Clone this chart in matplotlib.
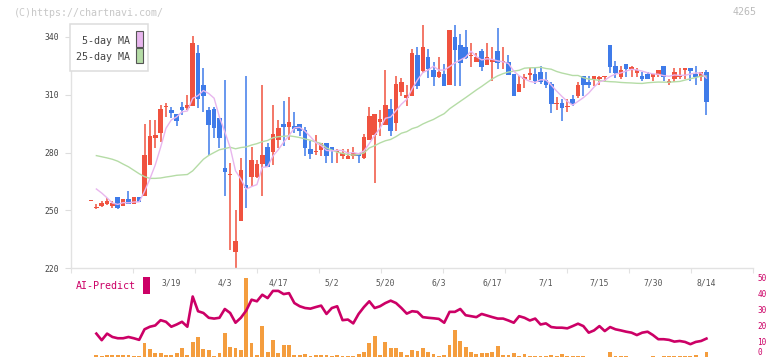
import numpy as np
import pandas as pd
import matplotlib
matplotlib.use("Agg")
import matplotlib.pyplot as plt
from matplotlib.patches import Rectangle
from matplotlib.transforms import blended_transform_factory

# ---------------- data ----------------
opens = [255.0, 251.4, 252.5, 253.5, 252.4, 256.9, 252.3, 256.1, 253.3, 257.1,
         257.6, 273.5, 287.7, 290.3, 303.9, 301.9, 300.1, 303.6, 303.2, 304.3,
         331.4, 315.0, 302.0, 302.5, 297.7, 272.1, 268.7, 228.6, 244.7, 263.2,
         267.5, 267.5, 273.9, 282.7, 280.4, 286.5, 294.8, 293.4, 293.7, 294.8,
         291.7, 281.8, 280.4, 281.3, 284.9, 283.0, 280.8, 278.4, 276.6, 278.4,
         279.7, 277.3, 286.5, 289.2, 295.8, 294.3, 302.5, 295.5, 311.5, 308.4,
         309.4, 330.5, 322.4, 329.5, 322.7, 319.3, 320.7, 315.0, 339.8, 335.7,
         334.7, 330.3, 327.1, 332.6, 325.5, 327.4, 332.6, 327.1, 326.9, 320.7,
         311.5, 318.6, 320.7, 320.7, 321.7, 317.6, 315.5, 305.3, 305.6, 303.8,
         307.7, 309.4, 319.6, 316.5, 318.1, 318.6, 319.3, 335.7, 324.8, 319.1,
         325.9, 323.8, 321.4, 319.6, 320.7, 319.3, 320.3, 324.8, 316.5, 318.3,
         319.6, 323.2, 323.8, 320.7, 319.3, 321.7]
highs = [255.0, 253.1, 255.0, 256.6, 255.0, 256.9, 256.1, 260.2, 256.9, 257.1,
         294.9, 296.8, 296.8, 304.6, 305.5, 303.6, 300.1, 306.0, 309.8, 340.2,
         335.7, 323.6, 303.6, 303.6, 297.7, 317.6, 274.4, 250.0, 277.0, 319.6,
         282.7, 276.1, 315.0, 284.7, 304.6, 296.8, 306.7, 308.8, 301.0, 294.8,
         293.4, 286.0, 289.1, 284.9, 284.9, 283.0, 281.8, 281.8, 281.8, 282.7,
         279.7, 289.6, 303.6, 299.8, 301.9, 322.7, 307.7, 319.6, 318.8, 315.0,
         333.6, 334.7, 346.0, 333.6, 326.9, 329.5, 325.7, 343.5, 346.0, 341.4,
         343.5, 336.7, 331.5, 333.6, 336.7, 334.7, 344.5, 334.7, 330.5, 320.7,
         319.6, 320.7, 323.8, 323.8, 324.8, 321.7, 316.5, 308.8, 307.7, 307.7,
         309.8, 316.5, 319.6, 319.6, 319.6, 319.6, 319.3, 335.7, 327.4, 324.8,
         325.9, 324.8, 323.8, 321.7, 321.7, 320.7, 322.7, 324.8, 318.3, 323.8,
         323.8, 323.8, 323.8, 324.8, 321.7, 322.7]
lows = [255.0, 250.7, 251.9, 252.8, 251.4, 250.9, 252.3, 253.3, 253.3, 254.4,
        257.6, 273.5, 282.5, 285.6, 298.2, 297.7, 293.7, 299.4, 302.0, 304.3,
        302.9, 300.8, 278.7, 287.3, 282.2, 257.6, 229.5, 220.0, 244.7, 251.4,
        262.5, 266.6, 257.6, 272.7, 273.5, 282.2, 283.5, 286.5, 289.9, 288.7,
        278.4, 276.6, 278.7, 278.4, 274.7, 274.7, 274.7, 276.6, 276.6, 276.6,
        274.7, 276.6, 286.5, 264.4, 288.5, 294.3, 288.5, 291.1, 309.4, 304.3,
        309.4, 312.7, 321.4, 318.4, 314.5, 318.4, 314.6, 315.0, 314.6, 314.6,
        328.4, 324.5, 327.1, 322.4, 325.5, 317.2, 323.4, 323.4, 320.3, 309.4,
        311.5, 313.6, 317.6, 315.5, 315.5, 313.4, 300.6, 302.2, 296.5, 300.8,
        304.3, 308.4, 309.4, 313.6, 314.6, 315.0, 316.5, 321.4, 318.8, 318.3,
        319.3, 319.3, 319.3, 317.2, 318.3, 317.2, 319.3, 317.2, 315.0, 316.5,
        318.3, 318.3, 317.2, 315.0, 317.2, 299.4]
closes = [255.0, 251.4, 253.8, 254.9, 254.0, 251.4, 256.1, 253.3, 256.9, 254.4,
          278.7, 288.5, 289.0, 302.5, 303.9, 300.6, 296.3, 302.2, 304.6, 336.7,
          307.7, 309.4, 294.5, 292.5, 287.7, 269.7, 268.7, 234.1, 271.0, 261.8,
          276.1, 273.9, 278.7, 272.7, 289.6, 292.5, 293.4, 295.8, 292.4, 291.1,
          282.5, 279.2, 280.4, 284.9, 278.4, 281.3, 280.8, 279.6, 278.4, 279.7,
          278.4, 287.9, 298.9, 299.8, 297.5, 304.6, 291.1, 315.5, 316.5, 310.0,
          331.5, 314.5, 334.7, 323.4, 319.3, 321.7, 314.6, 343.5, 333.3, 326.5,
          329.1, 330.3, 329.5, 324.5, 329.5, 327.4, 326.5, 327.1, 320.3, 309.4,
          315.5, 318.6, 320.7, 317.2, 316.5, 315.0, 305.3, 305.3, 303.2, 303.8,
          305.3, 314.9, 315.0, 315.0, 319.6, 318.6, 319.3, 324.3, 321.4, 322.7,
          323.4, 323.8, 322.7, 318.3, 318.3, 320.7, 322.7, 319.3, 316.5, 321.7,
          319.6, 323.2, 322.4, 319.3, 321.7, 306.3]

ma5_head = [261.1, 259.0, 256.5]                      # days 1..3
ma25_head = [278.4, 277.8, 277.2, 276.5, 275.5, 274.0, 272.6, 270.8, 269.0,
             267.5, 266.6, 266.6, 266.8, 267.3, 267.7, 268.2, 268.4, 268.6,
             270.5, 273.5, 276.5, 278.5, 280.0]          # days 1..23

# bottom panel (days 1..115)
volume = [1.2, 1.0, 1.2, 1.2, 1.2, 1.2, 1.2, 0.6, 0.6,
          8.8, 5.1, 2.6, 2.6, 1.4, 1.4, 2.6, 5.7, 1.4, 9.4,
          12.5, 5.1, 4.5, 0.8, 2.6, 15.0, 6.3, 5.7, 4.7, 49.3,
          8.8, 1.6, 19.3, 3.3, 10.7, 2.6, 7.6, 7.6, 1.4, 1.4,
          2.0, 1.0, 1.4, 1.4, 1.4, 1.0, 1.4, 0.8, 0.8, 0.8,
          2.0, 3.3, 8.8, 13.1, 1.4, 9.4, 5.7, 5.7, 3.3, 1.4,
          4.5, 4.1, 5.7, 3.3, 2.0, 0.8, 1.6, 7.6, 16.8, 10.0,
          6.3, 3.3, 2.0, 2.6, 2.6, 3.3, 7.0, 1.4, 1.4, 2.6,
          1.0, 2.0, 0.8, 0.8, 0.8, 0.8, 1.4, 0.8, 2.0, 0.8,
          0.8, 0.8, 0.6, 0.4, 0.4, 0.4, 0.4, 3.3, 0.8, 0.8,
          0.8, 0.4, 0.4, 0.4, 0.4, 0.8, 0.4, 0.8, 0.8, 0.8,
          0.8, 0.8, 0.8, 1.4, 0.4, 3.3]
ai_predict = [14.8, 10.7, 14.8, 12.7, 11.9, 11.9, 12.7, 11.9, 10.9, 17.5,
              19.1, 19.9, 23.2, 22.2, 19.1, 20.5, 22.2, 19.1, 38.0, 28.8,
              27.7, 24.7, 24.2, 24.7, 30.2, 27.7, 21.6, 24.7, 29.2, 36.0,
              35.0, 39.1, 37.0, 41.5, 41.5, 39.5, 40.1, 33.9, 31.9, 30.8,
              30.4, 31.4, 32.3, 27.1, 30.8, 31.9, 23.2, 23.6, 21.2, 27.1,
              31.4, 35.0, 30.8, 31.9, 33.9, 35.4, 33.9, 30.8, 27.3, 28.8,
              28.4, 25.1, 24.7, 24.4, 24.0, 21.6, 28.4, 28.4, 30.2, 26.3,
              25.7, 25.1, 27.1, 26.1, 25.1, 24.2, 24.2, 23.0, 21.6, 25.7,
              24.7, 23.0, 24.2, 20.5, 21.2, 18.9, 18.5, 18.5, 18.1, 19.5,
              21.0, 19.5, 15.4, 16.8, 19.5, 16.4, 18.9, 17.5, 16.8, 16.0,
              15.4, 13.9, 15.4, 16.0, 13.9, 11.3, 11.3, 10.9, 9.8, 10.2,
              9.6, 8.2, 9.6, 10.2, 11.7]

date_pos = [15, 25, 35, 45, 55, 65, 75, 85, 95, 105, 115]
date_labels = ['3/19', '4/3', '4/17', '5/2', '5/20', '6/3', '6/17', '7/1',
               '7/15', '7/30', '8/14']
price_ticks = [220, 250, 280, 310, 340]
ai_ticks = [0, 10, 20, 30, 40, 50]

# ---------------- figure ----------------
W, H = 772, 361
fig = plt.figure(figsize=(W / 100, H / 100), dpi=100)
MONO = ['DejaVu Sans Mono']


def fx(px):
    return px / W


def fy(py):
    return 1 - py / H


RED = '#f0523f'
BLUE = '#3f7be9'
MAGENTA = '#cc0066'

n = len(closes)
idx = np.arange(n)
o = np.array(opens); c = np.array(closes)
hi = np.array(highs); lo = np.array(lows)
up = c >= o
cols = np.where(up, RED, BLUE)

s = pd.Series(closes)
ma5 = s.rolling(5).mean().to_numpy()
ma25 = s.rolling(25).mean().to_numpy()
ma5[1:4] = ma5_head
ma25[1:24] = ma25_head

XMIN, XMAX = -3.74, 123.7

ax = fig.add_axes([fx(71), fy(268.3), fx(753) - fx(71), fy(24) - fy(268.3)])
ax.set_xlim(XMIN, XMAX)
ax.set_ylim(220, 346.6)

# wicks
ax.vlines(idx, lo, hi, colors=cols, linewidth=1.1, zorder=2)
# bodies
body_h = np.maximum(np.abs(c - o), 0.75)
body_b = np.where(np.abs(c - o) < 0.75, np.minimum(o, c) - 0.375, np.minimum(o, c))
ax.bar(idx, body_h, bottom=body_b, width=0.85, color=cols, linewidth=0, zorder=3)

# moving averages
ax.plot(idx, ma25, color='#b5dca6', linewidth=1.0, zorder=4)
ax.plot(idx, ma5, color='#e8b6ee', linewidth=1.0, zorder=4)

for side in ['top', 'right']:
    ax.spines[side].set_visible(False)
for side in ['left', 'bottom']:
    ax.spines[side].set_color('#e2e2e2')
    ax.spines[side].set_linewidth(1.0)

ax.set_yticks(price_ticks)
ax.set_yticklabels([str(t) for t in price_ticks], fontsize=5.8, color='#444444',
                   family=MONO)
ax.tick_params(axis='y', length=4.3, width=0.8, color='#dddddd', pad=4)
ax.set_xticks(np.linspace(XMIN, XMAX, 12))
ax.set_xticklabels([])
ax.tick_params(axis='x', length=3.6, width=0.8, color='#e2e2e2')

# date labels between panels
trans = blended_transform_factory(ax.transData, fig.transFigure)
for p, lab in zip(date_pos, date_labels):
    ax.text(p, fy(283), lab, transform=trans, ha='center', va='center',
            fontsize=5.8, color='#555555', family=MONO, clip_on=False)

# ---------------- bottom panel ----------------
ax2 = fig.add_axes([fx(71), fy(357.3), fx(753) - fx(71), fy(277.3) - fy(357.3)])
ax2.set_xlim(XMIN, XMAX)
ax2.set_ylim(0, 50)
ax2.patch.set_alpha(0)
for sp in ax2.spines.values():
    sp.set_visible(False)
ax2.bar(idx[1:], volume, width=0.72, color='#f49d3e', linewidth=0, zorder=2)
ax2.plot(idx[1:], ai_predict, color=MAGENTA, linewidth=1.9, zorder=3,
         solid_joinstyle='round')
ax2.set_xticks([])
ax2.yaxis.tick_right()
ax2.set_yticks(ai_ticks)
ax2.set_yticklabels([str(t) for t in ai_ticks], fontsize=5.6, color=MAGENTA,
                    family=MONO)
ax2.tick_params(axis='y', length=0, pad=3)
for lbl in ax2.get_yticklabels():
    if lbl.get_text() == '0':
        lbl.set_verticalalignment('bottom')

# AI-Predict label
fig.text(fx(76), fy(286), 'AI-Predict', color=MAGENTA, fontsize=7.2,
         family=MONO, ha='left', va='center')
fig.add_artist(Rectangle((fx(143), fy(294)), fx(7), 17 / H, transform=fig.transFigure,
                         facecolor=MAGENTA, edgecolor='none', zorder=6))

# legend box
fig.add_artist(Rectangle((fx(70.3), fy(71)), fx(78), 46.7 / H, transform=fig.transFigure,
                         facecolor='white', edgecolor='#dddddd', linewidth=1.1, zorder=5))
fig.text(fx(129.5), fy(40.5), '5-day MA', color='#444444', fontsize=7.2,
         family=MONO, ha='right', va='center', zorder=6)
fig.text(fx(129.5), fy(57.5), '25-day MA', color='#444444', fontsize=7.2,
         family=MONO, ha='right', va='center', zorder=6)
fig.add_artist(Rectangle((fx(136.3), fy(46.7)), fx(6.4), 15.7 / H, transform=fig.transFigure,
                         facecolor='#e8b6ee', edgecolor='#555555', linewidth=0.8, zorder=6))
fig.add_artist(Rectangle((fx(136.3), fy(63.3)), fx(6.4), 15.0 / H, transform=fig.transFigure,
                         facecolor='#b5dca6', edgecolor='#555555', linewidth=0.8, zorder=6))

# watermark and code
fig.text(fx(14), fy(12.5), '(C)https://chartnavi.com/', color='#c8c8c8', fontsize=7.2,
         family=MONO, ha='left', va='center')
fig.text(fx(757), fy(12), '4265', color='#bbbbbb', fontsize=7.2,
         family=MONO, ha='right', va='center')

fig.savefig('out.png', dpi=100)
